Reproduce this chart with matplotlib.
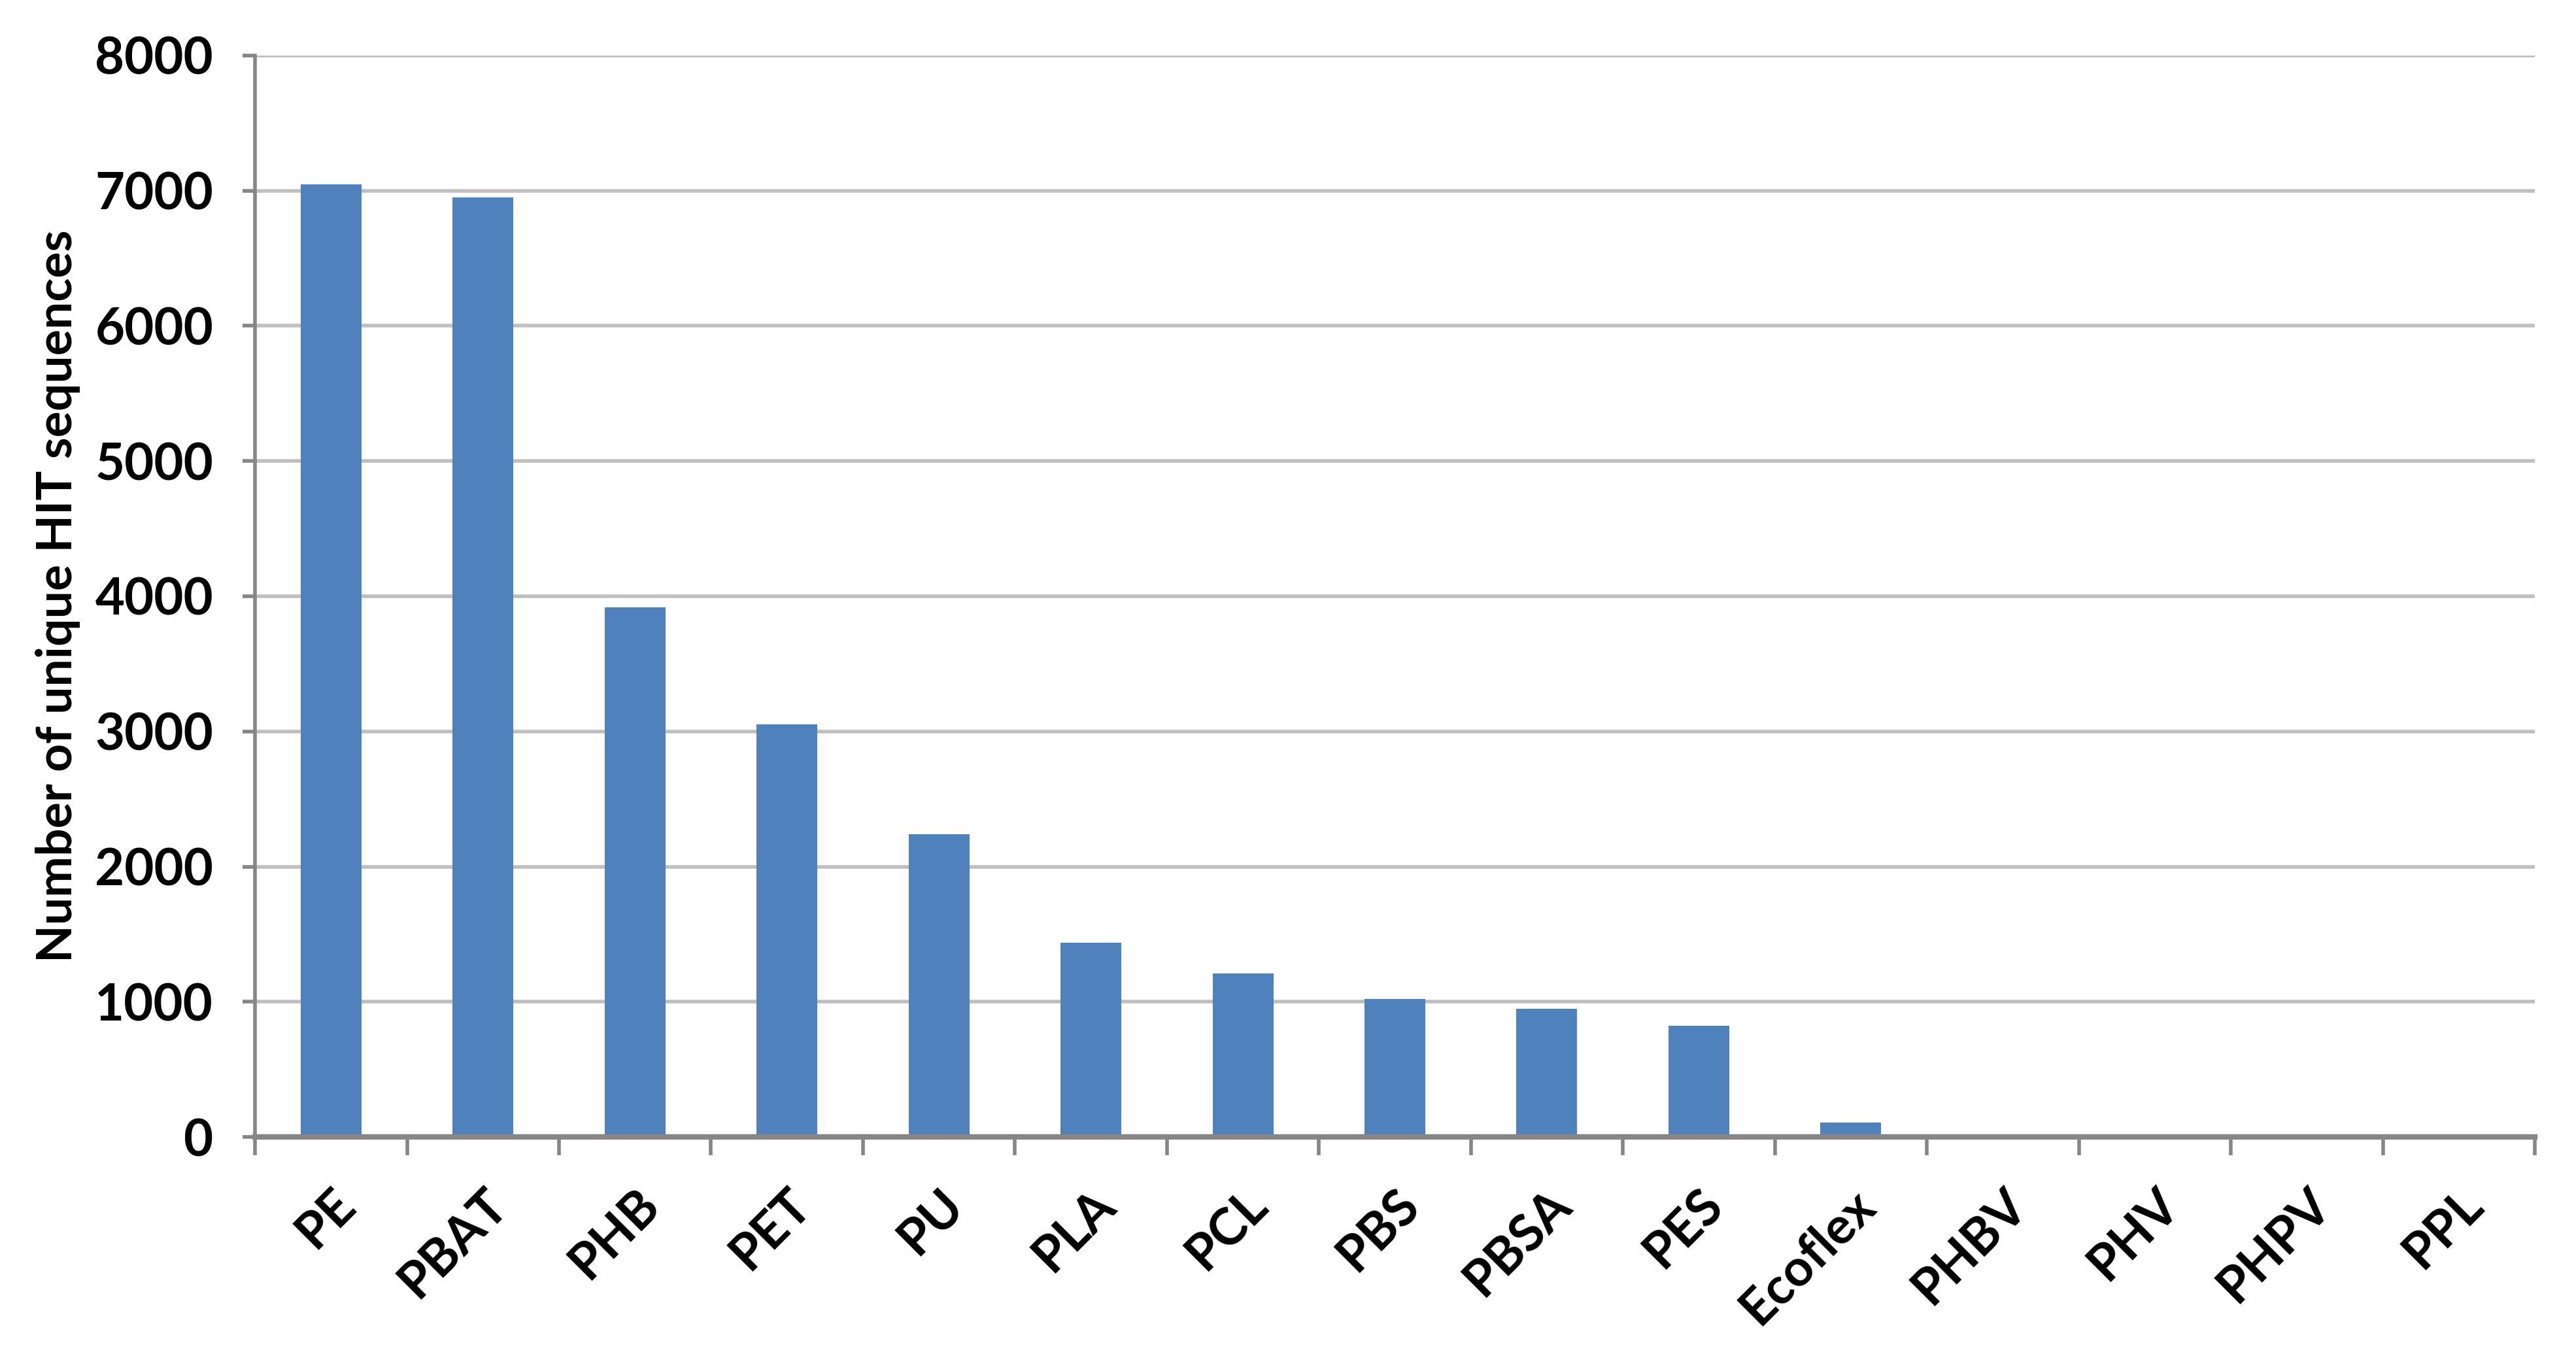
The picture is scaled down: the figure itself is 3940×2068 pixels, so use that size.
import matplotlib.pyplot as plt
import numpy as np

# polymer types and number of unique HIT sequences
polymers = ['PE', 'PBAT', 'PHB', 'PET', 'PU', 'PLA', 'PCL', 'PBS', 'PBSA', 'PES',
            'Ecoflex', 'PHBV', 'PHV', 'PHPV', 'PPL']
hits = [7048, 6952, 3920, 3050, 2240, 1435, 1210, 1020, 950, 822,
        108, 8, 6, 5, 4]
yticks = [0, 1000, 2000, 3000, 4000, 5000, 6000, 7000, 8000]

plt.rcParams['font.family'] = ['Lato', 'DejaVu Sans']
plt.rcParams['font.weight'] = 'bold'

fig = plt.figure(figsize=(19.7, 10.34), dpi=200)
ax = fig.add_axes([0.099, 0.159, 0.885, 0.8])

x = np.arange(len(polymers))
ax.bar(x, hits, width=0.4, color='#4F81BD', zorder=3)

ax.set_xlim(-0.5, len(polymers) - 0.5)
ax.set_ylim(0, 8000)
ax.set_yticks(yticks)
ax.set_yticklabels([str(v) for v in yticks], fontsize=28, fontweight='bold')
ax.yaxis.grid(True, color='#BFBFBF', linewidth=2.0, zorder=0)

# category labels at bar centres, ticks between categories
ax.set_xticks(x)
ax.set_xticklabels(polymers, rotation=45, ha='right', rotation_mode='anchor',
                   fontsize=28, fontweight='bold')
ax.tick_params(axis='x', length=0, pad=24)
ax.set_xticks(np.arange(-0.5, len(polymers), 1), minor=True)
ax.tick_params(axis='x', which='minor', length=10, width=2, color='#868686')
ax.tick_params(axis='y', length=7, width=2, color='#868686', pad=16)

for side in ['top', 'right']:
    ax.spines[side].set_visible(False)
ax.spines['left'].set_color('#868686')
ax.spines['left'].set_linewidth(2)
ax.spines['bottom'].set_color('#868686')
ax.spines['bottom'].set_linewidth(3)
ax.spines['bottom'].set_zorder(4)

ax.set_ylabel('Number of unique HIT sequences', fontsize=27, fontweight='bold', labelpad=8)

fig.savefig('out.png', dpi=200)
